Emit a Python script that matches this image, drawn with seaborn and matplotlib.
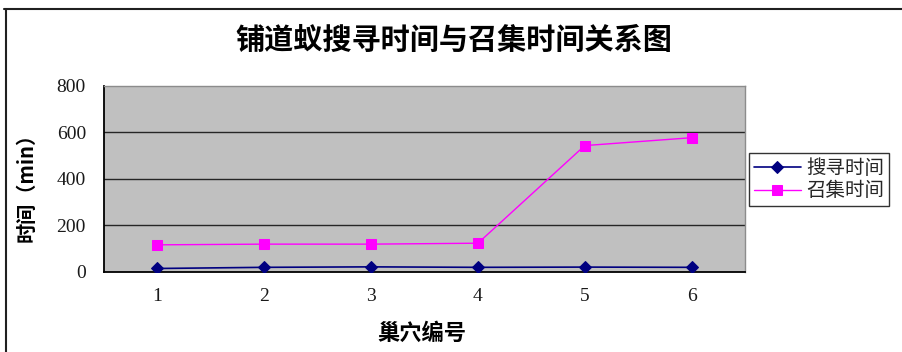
import matplotlib
matplotlib.use("Agg")
import matplotlib.pyplot as plt
from matplotlib.lines import Line2D
import seaborn as sns
import pandas as pd

# Nest numbers and the two measured times (minutes)
nests = [1, 2, 3, 4, 5, 6]
search_time = [13, 18, 20, 18, 19, 18]
recruit_time = [115, 118, 118, 122, 543, 577]
series_names = ["搜寻时间", "召集时间"]
y_ticks = [0, 200, 400, 600, 800]

sns.set_theme(style="white")
plt.rcParams["font.family"] = ["Noto Sans CJK SC", "DejaVu Sans"]

search_df = pd.DataFrame({"巢穴编号": nests, "时间": search_time, "系列": series_names[0]})
recruit_df = pd.DataFrame({"巢穴编号": nests, "时间": recruit_time, "系列": series_names[1]})

fig = plt.figure(figsize=(9.02, 3.52), dpi=100)
ax = fig.add_axes([104 / 902, 1 - 271.5 / 352, 641 / 902, 185.5 / 352])
ax.set_facecolor("#C0C0C0")

sns.lineplot(data=search_df, x="巢穴编号", y="时间", ax=ax, color="#000080",
             marker="D", markersize=6, markeredgecolor="#000080", linewidth=1.2,
             label=series_names[0], zorder=4)
sns.lineplot(data=recruit_df, x="巢穴编号", y="时间", ax=ax, color="#FF00FF",
             marker="s", markersize=7.5, markeredgecolor="#FF00FF", linewidth=1.0,
             label=series_names[1], zorder=4)

ax.set_xlim(0.5, 6.5)
ax.set_ylim(0, 800)

# Horizontal gridlines at the inner value ticks
for v in y_ticks[1:-1]:
    ax.axhline(v, color="#262626", linewidth=1.0, zorder=1)

tick_font = dict(family="Liberation Serif", size=14)
ax.set_yticks(y_ticks)
ax.set_yticklabels([str(v) for v in y_ticks], **tick_font)
ax.set_xticks(nests)
ax.set_xticklabels([str(n) for n in nests], **tick_font)
ax.tick_params(axis="y", length=0, pad=13)
ax.tick_params(axis="x", which="major", length=0, pad=12)
ax.set_xticks([1.5, 2.5, 3.5, 4.5, 5.5], minor=True)
ax.tick_params(axis="x", which="minor", direction="in", length=4, width=1, color="black")
ax.tick_params(axis="both", labelcolor="#1A1A1A")

for side in ("left", "bottom"):
    ax.spines[side].set_color("black")
    ax.spines[side].set_linewidth(1.3)
for side in ("top", "right"):
    ax.spines[side].set_color("#8C8C8C")
    ax.spines[side].set_linewidth(1.0)
    ax.spines[side].set_visible(True)

ax.set_xlabel("")
ax.set_ylabel("")
fig.text(26 / 902, 1 - 182 / 352, "时间（min）", rotation=90, ha="center", va="center",
         fontsize=14.5, fontweight="bold", color="black")
fig.text(422 / 902, 1 - 333 / 352, "巢穴编号", ha="center", va="center",
         fontsize=16, fontweight="bold", color="black")
fig.text(454 / 902, 1 - 40 / 352, "铺道蚁搜寻时间与召集时间关系图", ha="center", va="center",
         fontsize=21, fontweight="bold", color="black")

leg = ax.legend(loc="center left", bbox_to_anchor=(749 / 902, 1 - 179.5 / 352),
                bbox_transform=fig.transFigure, frameon=True, fancybox=False,
                fontsize=14, handlelength=2.4, handletextpad=0.3,
                borderpad=0.25, labelspacing=0.1, borderaxespad=0)
leg.get_frame().set_edgecolor("black")
leg.get_frame().set_linewidth(1.0)

# Chart-area frame lines along the top and left edge
fig.add_artist(Line2D([4 / 902, 1], [1 - 9 / 352, 1 - 9 / 352],
                      transform=fig.transFigure, color="#202020", linewidth=1.5))
fig.add_artist(Line2D([5.5 / 902, 5.5 / 902], [0, 1 - 9 / 352],
                      transform=fig.transFigure, color="#202020", linewidth=1.5))

fig.savefig("out.png", dpi=100, facecolor="white")
